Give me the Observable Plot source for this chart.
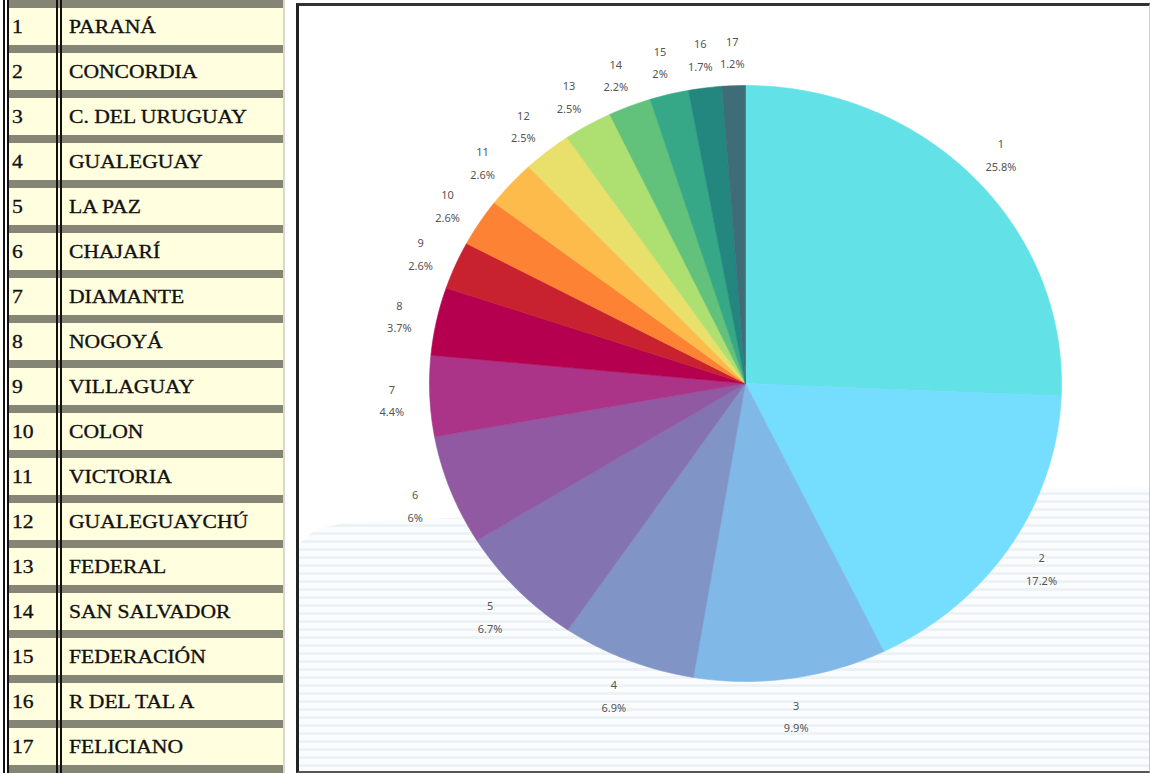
<!DOCTYPE html>
<html>
<head>
<meta charset="utf-8">
<script src="https://cdn.jsdelivr.net/npm/d3@7"></script>
<script src="https://cdn.jsdelivr.net/npm/@observablehq/plot@0.6"></script>
<style>
  html, body { margin: 0; padding: 0; background: #fff; width: 1150px; height: 773px; overflow: hidden; }
  #table { position: absolute; left: 0; top: 0; width: 285px; height: 773px; }
  .band { position: absolute; left: 8px; width: 275px; height: 8px; background: #858575; }
  .cell { position: absolute; left: 8px; width: 275px; background: #fffedf; }
  .vline { position: absolute; top: 0; width: 1.5px; height: 773px; background: #111; }
  .num, .name { position: absolute; font-family: "Liberation Serif", serif; font-size: 18px; color: #111;
    transform: scaleX(1.2); transform-origin: left center; white-space: nowrap; line-height: 20px; -webkit-text-stroke: 0.3px #111; }
  #box { position: absolute; left: 296px; top: 3px; width: 850px; height: 765px;
    border-left: 3px solid #222; border-top: 3px solid #333; border-right: 1px solid #ccc; border-bottom: 2px solid #555;
    overflow: hidden; background: #fff; }
  .wave { position: absolute; left: 0; top: 478px; width: 850px; height: 300px;
    background: repeating-linear-gradient(to bottom, #edf2f4 0px, #edf2f4 3px, #fbfcfd 3px, #fbfcfd 8px);
    clip-path: polygon(0 60px, 2% 45px, 6% 38px, 12% 36px, 30% 30px, 60% 18px, 80% 8px, 90% 4px, 100% 3px, 100% 100%, 0 100%); }
  #chart { position: absolute; left: 0; top: 0; }
</style>
</head>
<body>
<div id="table"></div>
<div id="box">
  <div class="wave"></div>
  <div id="chart"></div>
</div>
<script>
// ---- data ----
const ids = [1,2,3,4,5,6,7,8,9,10,11,12,13,14,15,16,17];
const names = ["PARANÁ","CONCORDIA","C. DEL URUGUAY","GUALEGUAY","LA PAZ","CHAJARÍ","DIAMANTE","NOGOYÁ",
  "VILLAGUAY","COLON","VICTORIA","GUALEGUAYCHÚ","FEDERAL","SAN SALVADOR","FEDERACIÓN","R DEL TAL A","FELICIANO"];
const shares = [25.8,17.2,9.9,6.9,6.7,6,4.4,3.7,2.6,2.6,2.6,2.5,2.5,2.2,2,1.7,1.2];
const colors = ["#62e1e7","#75ddfd","#80b9e8","#8095c6","#8374b1","#9159a1","#ab3489","#b5004f",
  "#c8212f","#fd8234","#fdbb4b","#e8e06b","#aedf71","#62c17b","#36a887","#23867f","#3e6d78"];

// ---- legend table ----
const table = document.getElementById("table");
const rowH = 45.0;
ids.forEach((id, i) => {
  const top = i * rowH;
  table.insertAdjacentHTML("beforeend",
    `<div class="band" style="top:${top}px"></div>` +
    `<div class="cell" style="top:${top + 8}px;height:${rowH - 8}px"></div>` +
    `<div class="num" style="left:12px;top:${top + 17}px">${id}</div>` +
    `<div class="name" style="left:69px;top:${top + 17}px">${names[i]}</div>`);
});
table.insertAdjacentHTML("beforeend", `<div class="band" style="top:${17 * rowH}px"></div>`);
[3, 7, 56, 60].forEach(x => table.insertAdjacentHTML("beforeend", `<div class="vline" style="left:${x}px"></div>`));
table.insertAdjacentHTML("beforeend", `<div style="position:absolute;left:283px;top:0;width:2px;height:773px;background:#d8d8d0"></div>`);

// ---- pie geometry from data ----
const total = d3.sum(shares);
const slicePts = [];
const labels = [];
let acc = 0;
shares.forEach((v, i) => {
  const a0 = acc / total * 2 * Math.PI;
  acc += v;
  const a1 = acc / total * 2 * Math.PI;
  const n = Math.max(2, Math.ceil((a1 - a0) / (Math.PI / 180)));
  slicePts.push({k: ids[i], x: 0, y: 0});
  for (let j = 0; j <= n; j++) {
    const a = a0 + (a1 - a0) * j / n;
    slicePts.push({k: ids[i], x: Math.sin(a), y: Math.cos(a)});
  }
  slicePts.push({k: ids[i], x: 0, y: 0});
  const am = (a0 + a1) / 2;
  labels.push({x: 1.12 * Math.sin(am), y: 1.12 * Math.cos(am), t: `${ids[i]}\n${v}%`});
});

const cx = 446, cy = 377, rx = 316, ry = 298;
const chart = Plot.plot({
  width: 850, height: 765,
  margin: 0,
  style: {background: "transparent", overflow: "visible"},
  x: {domain: [-1, 1], range: [cx - rx, cx + rx], axis: null},
  y: {domain: [-1, 1], range: [cy + ry, cy - ry], axis: null},
  color: {domain: ids, range: colors},
  marks: [
    Plot.line(slicePts, {x: "x", y: "y", z: "k", fill: "k", stroke: "k", strokeWidth: 0.6, curve: "linear"}),
    Plot.text(labels, {x: "x", y: "y", text: "t", fill: "#555", fontSize: 11, lineHeight: 2.05,
      fontFamily: "Noto Sans, sans-serif"})
  ]
});
document.getElementById("chart").appendChild(chart);
</script>
</body>
</html>
